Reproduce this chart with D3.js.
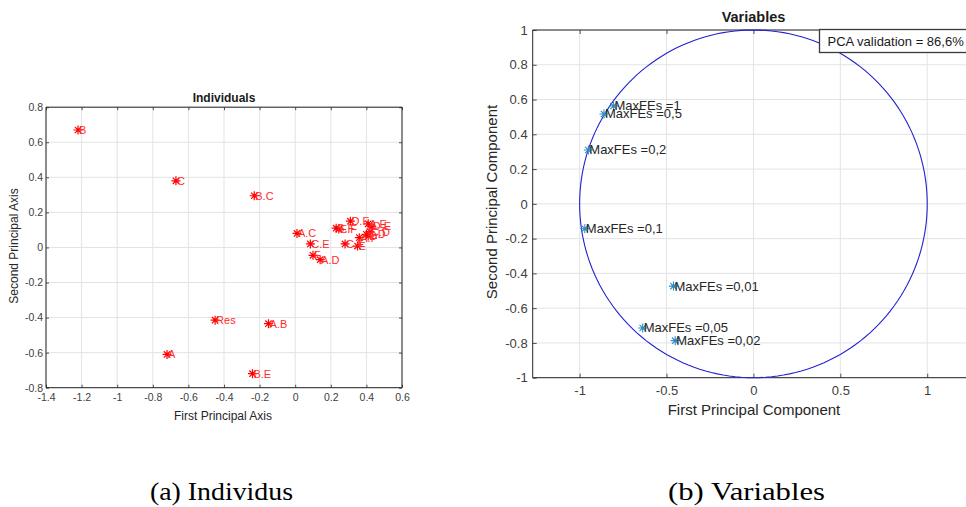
<!DOCTYPE html>
<html>
<head>
<meta charset="utf-8">
<script src="https://cdn.jsdelivr.net/npm/d3@7"></script>
<style>
  html, body { margin: 0; padding: 0; background: #ffffff; }
  svg { display: block; }
  text { font-family: "Liberation Sans", Arial, sans-serif; }
</style>
</head>
<body>
<svg id="chart" width="966" height="507"></svg>
<script>
// ---------- Data: (a) Individuals ----------
const indNames = ["B", "C", "B.C", "A.C", "C.E", "F", "A.D", "B.F", "E.F", "D.F",
                  "C.F", "E", "A.F", "B.D", "D", "C.D", "A.E", "D.E",
                  "Res", "A.B", "A", "B.E"];
const indX = [-1.22, -0.67, -0.23, 0.01, 0.085, 0.10, 0.14, 0.23, 0.245, 0.31,
              0.28, 0.35, 0.36, 0.40, 0.41, 0.42, 0.41, 0.43,
              -0.45, -0.15, -0.72, -0.24];
const indY = [0.67, 0.38, 0.295, 0.08, 0.02, -0.045, -0.07, 0.11, 0.105, 0.15,
              0.02, 0.008, 0.056, 0.075, 0.065, 0.09, 0.135, 0.12,
              -0.415, -0.435, -0.61, -0.72];
const indXTicks = [-1.4, -1.2, -1, -0.8, -0.6, -0.4, -0.2, 0, 0.2, 0.4, 0.6];
const indYTicks = [-0.8, -0.6, -0.4, -0.2, 0, 0.2, 0.4, 0.6, 0.8];

// ---------- Data: (b) Variables ----------
const varNames = ["MaxFEs =1", "MaxFEs =0,5", "MaxFEs =0,2", "MaxFEs =0,1",
                  "MaxFEs =0,01", "MaxFEs =0,05", "MaxFEs =0,02"];
const varX = [-0.805, -0.86, -0.95, -0.97, -0.46, -0.637, -0.45];
const varY = [0.563, 0.517, 0.31, -0.143, -0.473, -0.714, -0.787];
const varXTicks = [-1, -0.5, 0, 0.5, 1];
const varYTicks = [-1, -0.8, -0.6, -0.4, -0.2, 0, 0.2, 0.4, 0.6, 0.8, 1];
const validationText = "PCA validation = 86,6%";

const captions = ["(a) Individus", "(b) Variables"];

// ---------- Helpers ----------
const svg = d3.select("#chart");
const fmt = v => String(+v.toFixed(2));
const axisCol = "#262626", tickCol = "#404040", gridCol = "#e3e3e3";

function asterisk(r) {
  const d = r * Math.SQRT1_2;
  return `M${-r},0L${r},0M0,${-r}L0,${r}M${-d},${-d}L${d},${d}M${-d},${d}L${d},${-d}`;
}

function drawFrame(g, x, y, xTicks, yTicks, opt) {
  const [x0, x1] = x.range(), [y0, y1] = y.range(); // y0 bottom, y1 top
  const right = Math.min(x1, 966);
  g.append("g").selectAll("line").data(xTicks).join("line")
    .attr("x1", d => x(d)).attr("x2", d => x(d)).attr("y1", y1).attr("y2", y0)
    .attr("stroke", gridCol).attr("stroke-width", 1);
  g.append("g").selectAll("line").data(yTicks).join("line")
    .attr("x1", x0).attr("x2", right).attr("y1", d => y(d)).attr("y2", d => y(d))
    .attr("stroke", gridCol).attr("stroke-width", 1);
  const xb = d3.axisBottom(x).tickValues(xTicks).tickFormat(fmt).tickSizeInner(-opt.tick).tickSizeOuter(0).tickPadding(opt.tick + opt.xPad);
  const xt = d3.axisTop(x).tickValues(xTicks).tickFormat("").tickSizeInner(-opt.tick).tickSizeOuter(0);
  const yl = d3.axisLeft(y).tickValues(yTicks).tickFormat(fmt).tickSizeInner(-opt.tick).tickSizeOuter(0).tickPadding(opt.tick + opt.yPad);
  const yr = d3.axisRight(y).tickValues(yTicks).tickFormat("").tickSizeInner(-opt.tick).tickSizeOuter(0);
  const gx = g.append("g").attr("transform", `translate(0,${y0})`).call(xb);
  g.append("g").attr("transform", `translate(0,${y1})`).call(xt);
  const gy = g.append("g").attr("transform", `translate(${x0},0)`).call(yl);
  if (x1 <= 966) g.append("g").attr("transform", `translate(${x1},0)`).call(yr);
  [gx, gy].forEach(a => a.selectAll("text").attr("fill", tickCol).style("font-size", opt.tickFont + "px"));
  g.selectAll(".domain").remove();
  g.selectAll(".tick line").attr("stroke", axisCol).attr("stroke-width", 0.8);
  g.append("path")
    .attr("d", `M${right},${y1}L${x0},${y1}L${x0},${y0}L${right},${y0}` + (x1 <= 966 ? `L${right},${y1}` : ""))
    .attr("fill", "none").attr("stroke", axisCol).attr("stroke-width", 1);
}

// ---------- Chart (a) ----------
{
  const x = d3.scaleLinear().domain([-1.4, 0.6]).range([46, 402]);
  const y = d3.scaleLinear().domain([-0.8, 0.8]).range([387.7, 107.2]);
  const g = svg.append("g");
  drawFrame(g, x, y, indXTicks, indYTicks, { tick: 3, xPad: 3, yPad: 0, tickFont: 10.5 });

  const pts = indNames.map((n, i) => ({ n, x: indX[i], y: indY[i] }));
  g.append("g").selectAll("path").data(pts).join("path")
    .attr("d", asterisk(4.5))
    .attr("transform", d => `translate(${x(d.x)},${y(d.y)})`)
    .attr("stroke", "#ff0000").attr("stroke-width", 1.2).attr("fill", "none");
  g.append("g").selectAll("text").data(pts).join("text")
    .attr("x", d => x(d.x) + 1).attr("y", d => y(d.y) + 4)
    .attr("fill", "#ff2a2a").style("font-size", "11px")
    .text(d => d.n);

  g.append("text").attr("x", 224).attr("y", 101.5).attr("text-anchor", "middle")
    .attr("fill", "#1a1a1a").style("font-size", "12px").style("font-weight", "bold").text("Individuals");
  g.append("text").attr("x", 223).attr("y", 419.5).attr("text-anchor", "middle")
    .attr("fill", axisCol).style("font-size", "12px").text("First Principal Axis");
  g.append("text").attr("transform", "translate(17.5,246) rotate(-90)").attr("text-anchor", "middle")
    .attr("fill", axisCol).style("font-size", "12px").text("Second Principal Axis");
}

// ---------- Chart (b) ----------
{
  const x = d3.scaleLinear().domain([-1.27, 1.27]).range([532.7, 532.7 + 2.54 * 173.8]);
  const y = d3.scaleLinear().domain([-1, 1]).range([377.7, 30]);
  const g = svg.append("g");
  drawFrame(g, x, y, varXTicks, varYTicks, { tick: 4, xPad: 4, yPad: 1, tickFont: 13 });

  const circ = d3.range(0, 361, 2).map(a => [Math.cos(a * Math.PI / 180), Math.sin(a * Math.PI / 180)]);
  g.append("path").datum(circ)
    .attr("d", d3.line().x(d => x(d[0])).y(d => y(d[1])).curve(d3.curveLinearClosed))
    .attr("fill", "none").attr("stroke", "#2323d0").attr("stroke-width", 1.1);

  const pts = varNames.map((n, i) => ({ n, x: varX[i], y: varY[i] }));
  g.append("g").selectAll("path").data(pts).join("path")
    .attr("d", asterisk(4.5))
    .attr("transform", d => `translate(${x(d.x)},${y(d.y)})`)
    .attr("stroke", "#2a8cc8").attr("stroke-width", 1.1).attr("fill", "none");
  g.append("g").selectAll("text").data(pts).join("text")
    .attr("x", d => x(d.x) + 1).attr("y", d => y(d.y) + 4.5)
    .attr("fill", "#262626").style("font-size", "13px")
    .text(d => d.n);

  g.append("rect").attr("x", 819.5).attr("y", 29.5).attr("width", 160).attr("height", 23)
    .attr("fill", "#ffffff").attr("stroke", "#3a3a3a").attr("stroke-width", 1.3);
  g.append("text").attr("x", 827.5).attr("y", 45.5).attr("fill", "#1a1a1a")
    .style("font-size", "13px").text(validationText);

  g.append("text").attr("x", 753.5).attr("y", 22).attr("text-anchor", "middle")
    .attr("fill", "#1a1a1a").style("font-size", "14.5px").style("font-weight", "bold").text("Variables");
  g.append("text").attr("x", 754).attr("y", 414.5).attr("text-anchor", "middle")
    .attr("fill", axisCol).style("font-size", "15px").text("First Principal Component");
  g.append("text").attr("transform", "translate(497,202) rotate(-90)").attr("text-anchor", "middle")
    .attr("fill", axisCol).style("font-size", "15px").text("Second Principal Component");
}

// ---------- Captions ----------
const capFont = "'Liberation Serif', 'Times New Roman', Tinos, serif";
svg.append("text").attr("x", 150).attr("y", 500).attr("textLength", 143).attr("lengthAdjust", "spacingAndGlyphs")
  .style("font-family", capFont).style("font-size", "25px").style("font-weight", "normal")
  .attr("fill", "#000").text(captions[0]);
svg.append("text").attr("x", 668).attr("y", 500).attr("textLength", 157).attr("lengthAdjust", "spacingAndGlyphs")
  .style("font-family", capFont).style("font-size", "25px").style("font-weight", "normal")
  .attr("fill", "#000").text(captions[1]);
</script>
</body>
</html>
